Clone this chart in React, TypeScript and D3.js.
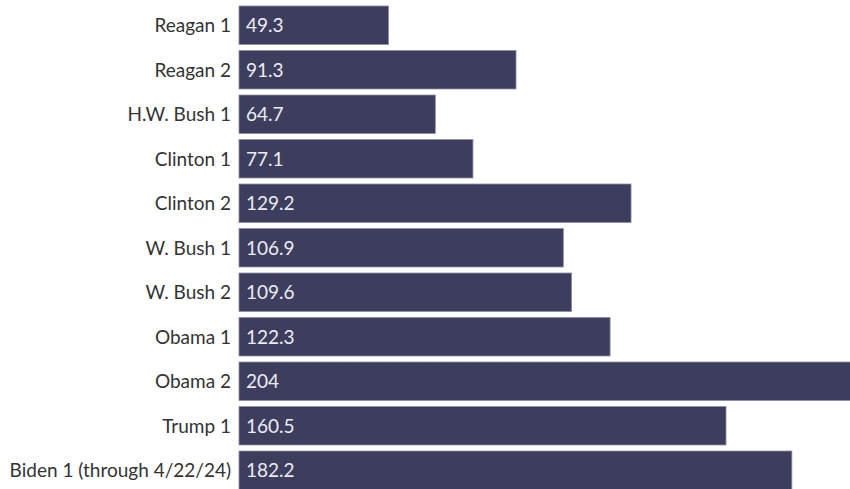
import React from "react";
import * as d3 from "d3";

const categories = [
  "Reagan 1",
  "Reagan 2",
  "H.W. Bush 1",
  "Clinton 1",
  "Clinton 2",
  "W. Bush 1",
  "W. Bush 2",
  "Obama 1",
  "Obama 2",
  "Trump 1",
  "Biden 1 (through 4/22/24)",
];
const values = [49.3, 91.3, 64.7, 77.1, 129.2, 106.9, 109.6, 122.3, 204, 160.5, 182.2];
const valueLabels = ["49.3", "91.3", "64.7", "77.1", "129.2", "106.9", "109.6", "122.3", "204", "160.5", "182.2"];

const W = 850;
const H = 489;

export default function App() {
  const x = d3.scaleLinear().domain([0, 204]).range([239, 858]);
  const y = d3
    .scaleBand<string>()
    .domain(categories)
    .range([6, 489.5])
    .paddingInner(0.135)
    .paddingOuter(0);
  return (
    <svg
      width={W}
      height={H}
      style={{ position: "absolute", left: 0, top: 0, display: "block" }}
      fontFamily="Lato, 'Open Sans', sans-serif"
    >
      {categories.map((c, i) => {
        const yy = y(c)!;
        const bh = y.bandwidth();
        return (
          <g key={c}>
            <rect
              x={x(0)}
              y={yy}
              width={x(values[i]) - x(0)}
              height={bh}
              fill="#3d3e5e"
              stroke="#8d8ea6"
              strokeWidth={0.8}
            />
            <text
              x={x(0) - 8}
              y={yy + bh / 2}
              dy="0.36em"
              textAnchor="end"
              fontSize={19}
              fill="#333"
            >
              {c}
            </text>
            <text
              x={x(0) + 7}
              y={yy + bh / 2}
              dy="0.36em"
              textAnchor="start"
              fontSize={19}
              fill="#ececf2"
            >
              {valueLabels[i]}
            </text>
          </g>
        );
      })}
    </svg>
  );
}
